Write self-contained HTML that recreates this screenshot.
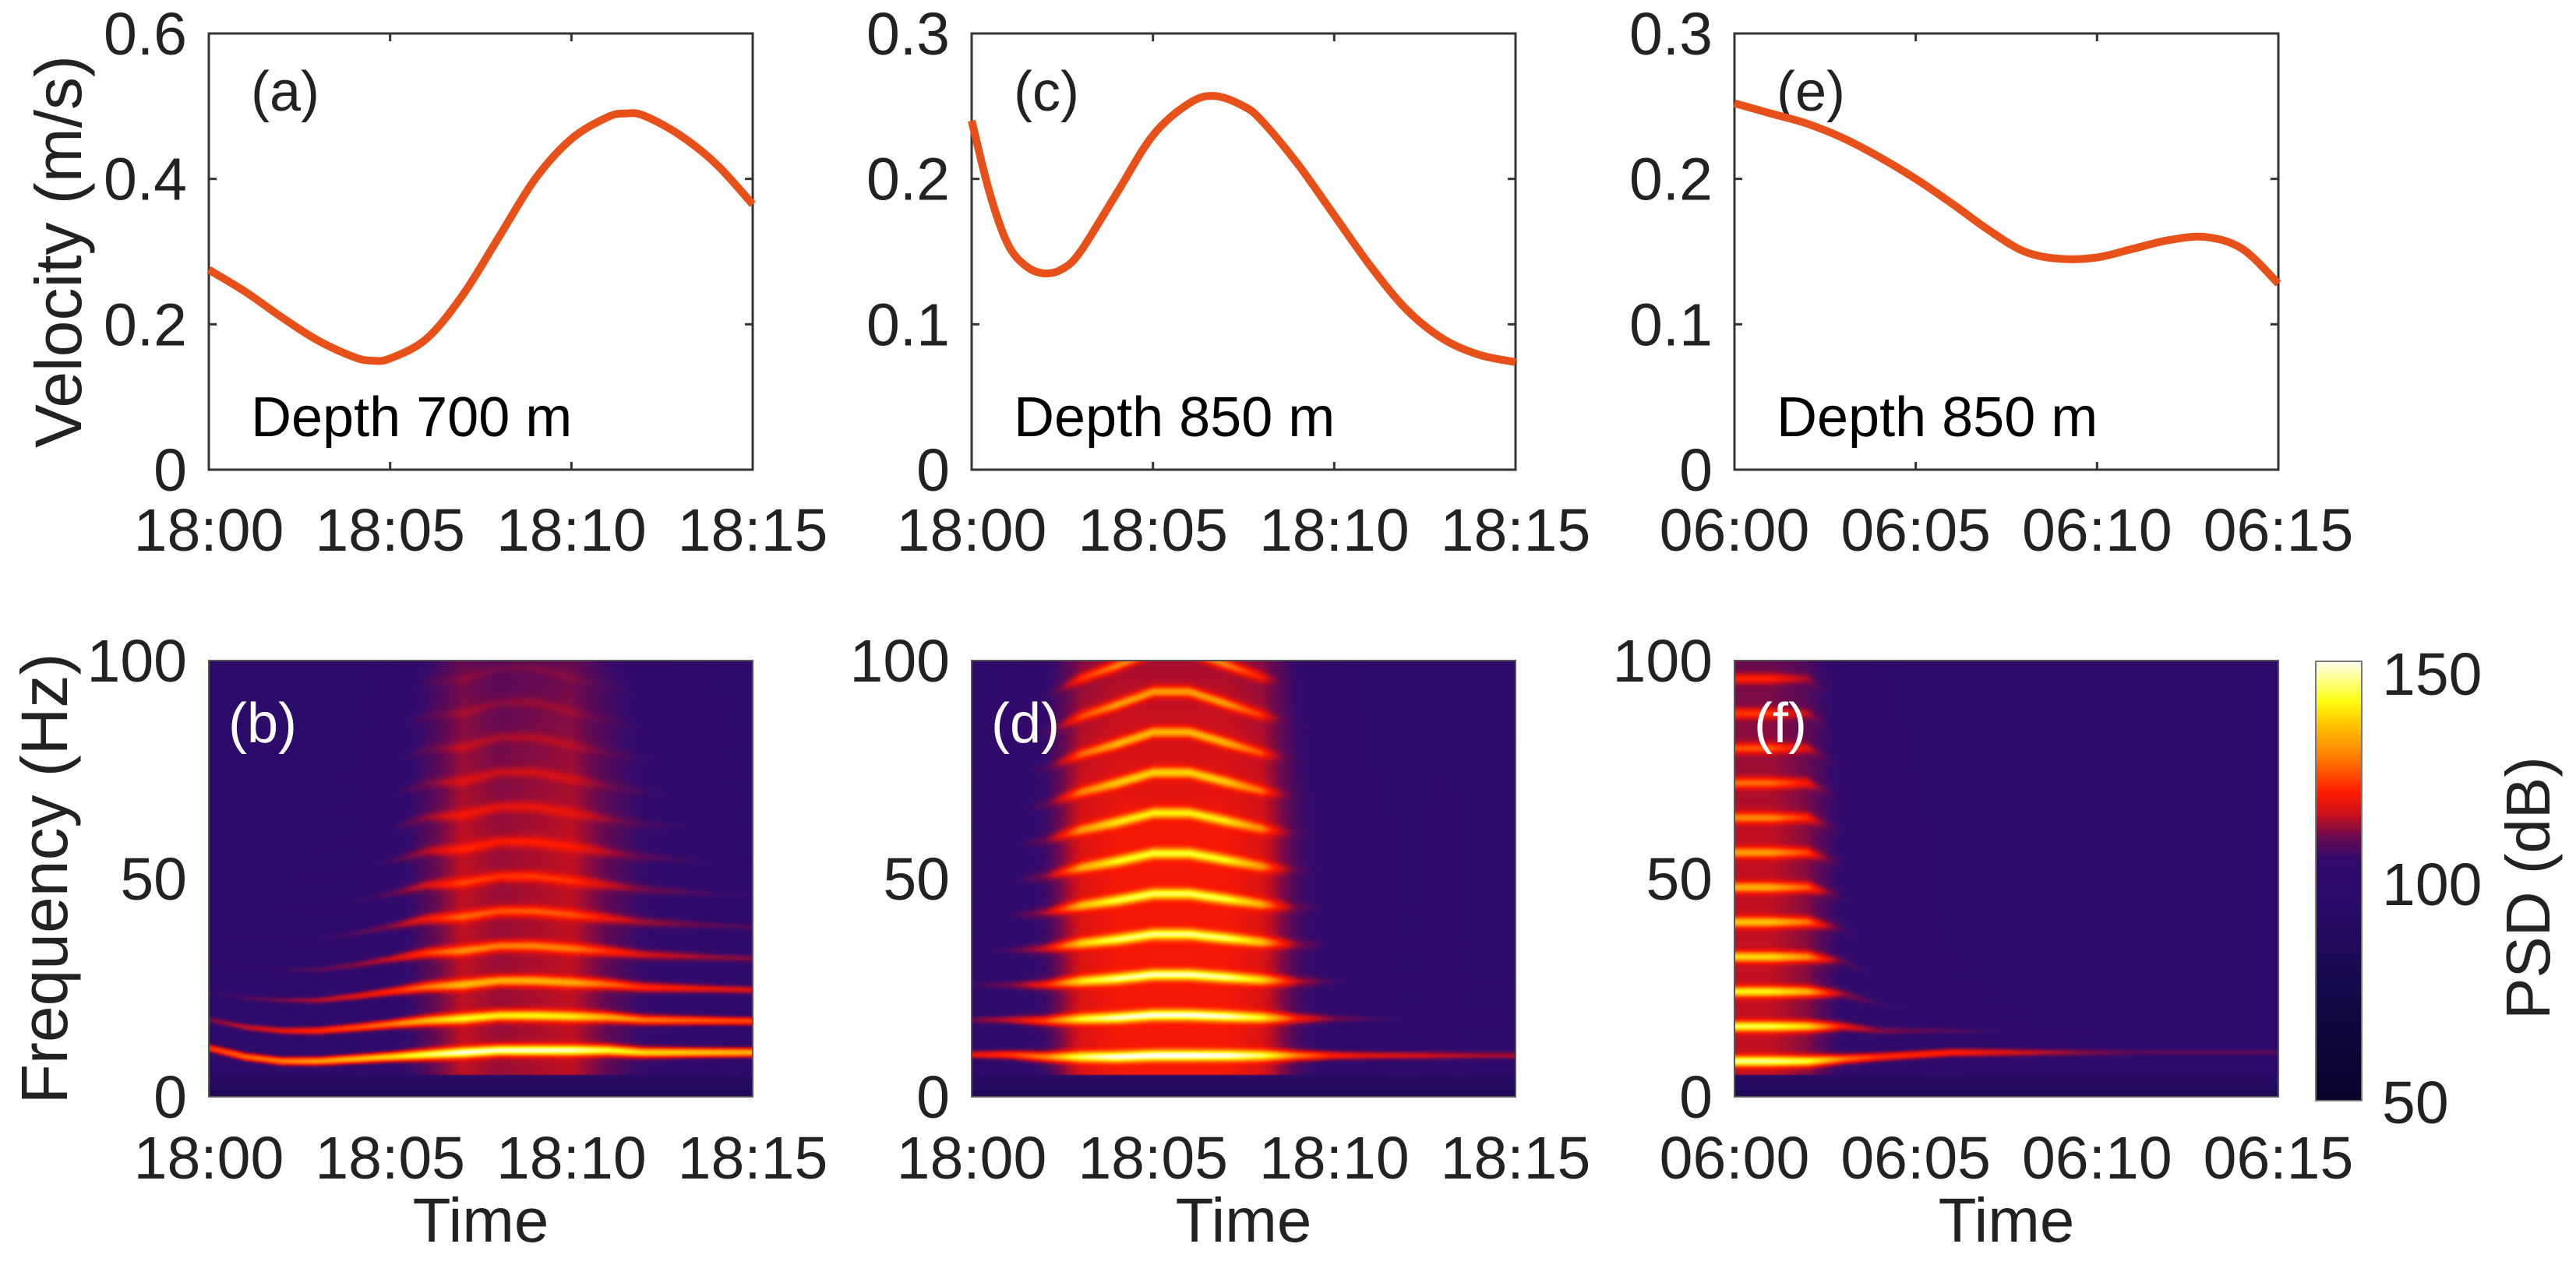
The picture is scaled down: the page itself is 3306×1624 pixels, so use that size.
<!DOCTYPE html>
<html><head><meta charset="utf-8"><style>
html,body{margin:0;padding:0;background:#fff;width:3306px;height:1624px;overflow:hidden}
#root{position:relative;width:3306px;height:1624px;font-family:"Liberation Sans",sans-serif}
canvas{position:absolute}
svg{position:absolute;left:0;top:0}
text{font-family:"Liberation Sans",sans-serif;fill:#222}
</style></head><body>
<div id="root">
<canvas id="spec0" width="698" height="560" style="left:268px;top:848px"></canvas>
<canvas id="spec1" width="698" height="560" style="left:1247px;top:848px"></canvas>
<canvas id="spec2" width="698" height="560" style="left:2226px;top:848px"></canvas>
<canvas id="cbar" width="59" height="564" style="left:2972px;top:849px"></canvas>
<svg id="svg" width="3306" height="1624">
<text x="0" y="0" font-size="84" text-anchor="middle" transform="translate(104,323) rotate(-90)">Velocity (m/s)</text>
<text x="0" y="0" font-size="84" text-anchor="middle" transform="translate(86,1128) rotate(-90)">Frequency (Hz)</text>
<text x="0" y="0" font-size="80" text-anchor="middle" transform="translate(3272,1140) rotate(-90)">PSD (dB)</text>
<text x="322" y="142" font-size="72">(a)</text>
<text x="1301" y="142" font-size="72">(c)</text>
<text x="2280" y="142" font-size="72">(e)</text>
<text x="322" y="560" font-size="72" style="fill:#000">Depth 700 m</text>
<text x="1301" y="560" font-size="72" style="fill:#000">Depth 850 m</text>
<text x="2280" y="560" font-size="72" style="fill:#000">Depth 850 m</text>
<text x="293" y="953" font-size="72" style="fill:#fff">(b)</text>
<text x="1272" y="953" font-size="72" style="fill:#fff">(d)</text>
<text x="2251" y="953" font-size="72" style="fill:#fff">(f)</text>
<text x="617" y="1594" font-size="80" text-anchor="middle">Time</text>
<text x="1596" y="1594" font-size="80" text-anchor="middle">Time</text>
<text x="2575" y="1594" font-size="80" text-anchor="middle">Time</text>
<text x="3057" y="892" font-size="77">150</text>
<text x="3057" y="1162" font-size="77">100</text>
<text x="3057" y="1442" font-size="77">50</text>
</svg>
</div>
<script>
// ---- data ----
const minutes = [0,5,10,15];
const xTickLabelsPM = ["18:00","18:05","18:10","18:15"];
const xTickLabelsAM = ["06:00","06:05","06:10","06:15"];
const yTicksA = [0,0.2,0.4,0.6];
const yTicksCE = [0,0.1,0.2,0.3];
const yTicksFreq = [0,50,100];
const timeA = [0,1,2,3,4,4.5,5,6,7,8,9,10,11,11.5,12,13,14,15];
const velA = [0.275,0.245,0.21,0.178,0.155,0.15,0.153,0.18,0.24,0.32,0.40,0.455,0.485,0.49,0.487,0.46,0.42,0.365];
const timeC = [0,0.5,1,1.5,2,2.5,3,4,5,6,6.7,7.5,8,9,10,11,12,13,14,15];
const velC = [0.24,0.19,0.155,0.14,0.135,0.138,0.15,0.19,0.23,0.252,0.257,0.25,0.24,0.21,0.175,0.14,0.11,0.09,0.079,0.074];
const timeE = [0,1,2,3,4,5,6,7,8,9,10,11,12,13,14,15];
const velE = [0.252,0.245,0.238,0.228,0.215,0.2,0.183,0.165,0.15,0.145,0.146,0.152,0.158,0.16,0.152,0.128];
// spectrogram descriptors per minute 0..15
const lowB = [11,9,8,8,8.5,9,9.5,10,10.5,10.5,10.5,10.5,10,10,10,10];
const spB  = [6.5,6.8,7,7,7.2,7.5,7.8,7.8,8,8,7.8,7.6,7.5,7.4,7.3,7.2];
const bsB  = [0.6,0.7,0.75,0.8,0.85,0.9,0.95,1,1,1,0.95,0.9,0.85,0.85,0.85,0.85];
const bbB  = [0,0,0,0.05,0.1,0.2,0.5,0.8,0.7,0.75,0.8,0.55,0.35,0.25,0.15,0.1];
const dkB  = [0.55,0.6,0.65,0.68,0.7,0.72,0.74,0.76,0.76,0.76,0.74,0.72,0.7,0.7,0.7,0.7];
const lowD = [9.5,9.5,9,9,9,9.3,9.3,9.3,9.3,9.3,9.3,9.3,9.3,9.3,9.3,9.3];
const spD  = [8,8,8.3,8.7,9,9.3,9.3,9,8.7,8.5,8.5,8.5,8.5,8.5,8.5,8.5];
const bsD  = [0.45,0.5,0.6,0.8,0.95,1,1,0.95,0.8,0.55,0.45,0.4,0.4,0.35,0.35,0.35];
const bbD  = [0.1,0.2,0.4,0.9,1,1,1,1,0.9,0.45,0.2,0.15,0.12,0.15,0.08,0.08];
const dkD  = [0.6,0.65,0.75,0.9,0.93,0.93,0.93,0.93,0.88,0.6,0.5,0.4,0.3,0.3,0.3,0.3];
const lowF = [8,8,8,8.5,9,9.5,10,10,10,10,10,10,10,10,10,10];
const spF  = [8,8,8,7.5,6,5.5,5,4.8,4.5,4.5,4.5,4.5,4.5,4.5,4.5,4.5];
const bsF  = [0.9,0.9,0.85,0.6,0.5,0.5,0.5,0.45,0.4,0.35,0.3,0.25,0.25,0.25,0.25,0.25];
const bbF  = [0.8,0.8,0.65,0.3,0.18,0.14,0.12,0.1,0.08,0.06,0.05,0.05,0.04,0.04,0.04,0.04];
const dkF  = [0.9,0.9,0.85,0.6,0.5,0.45,0.4,0.35,0.3,0.2,0.1,0.05,0.05,0.05,0.05,0.05];
const cmapDB = [50,75,95,105,110,115,120,128,136,141,150];
const cmapCol = ["#07042a","#14094a","#2a0b6a","#340a6c","#6a0a50","#c8101e","#ff1a00","#ff7a00","#ffc800","#ffff10","#fffff0"];

// ---- layout ----
const PX = [268,1247,2226], PW = 698, TOP = [43,603], BOT = [848,1408];
const NS = "http://www.w3.org/2000/svg";
const svg = document.getElementById('svg');
function mk(tag, attrs){const e=document.createElementNS(NS,tag);for(const k in attrs)e.setAttribute(k,attrs[k]);svg.appendChild(e);return e;}
function xs(i,t){return PX[i]+t/15*PW;}
function ys(v,max,r){return r[1]-v/max*(r[1]-r[0]);}
function smoothPath(pts){
  let d='M'+pts[0][0].toFixed(1)+','+pts[0][1].toFixed(1);
  for(let k=0;k<pts.length-1;k++){
    const p0=pts[Math.max(0,k-1)],p1=pts[k],p2=pts[k+1],p3=pts[Math.min(pts.length-1,k+2)];
    const c1=[p1[0]+(p2[0]-p0[0])/6,p1[1]+(p2[1]-p0[1])/6];
    const c2=[p2[0]-(p3[0]-p1[0])/6,p2[1]-(p3[1]-p1[1])/6];
    d+='C'+c1[0].toFixed(1)+','+c1[1].toFixed(1)+' '+c2[0].toFixed(1)+','+c2[1].toFixed(1)+' '+p2[0].toFixed(1)+','+p2[1].toFixed(1);
  }
  return d;
}

const lineSets = [[timeA,velA,0.6,yTicksA,xTickLabelsPM,"a"],[timeC,velC,0.3,yTicksCE,xTickLabelsPM,"c"],[timeE,velE,0.3,yTicksCE,xTickLabelsAM,"e"]];
lineSets.forEach((s,i)=>{
  const [tt,vv,max,yt,xl,nm]=s;
  minutes.forEach((m,j)=>{
    const x=xs(i,m);
    const a=mk('line',{x1:x,x2:x,y1:TOP[1],y2:TOP[1]-10,stroke:'#333','stroke-width':3});
    
    
    const b=mk('line',{x1:x,x2:x,y1:TOP[0],y2:TOP[0]+10,stroke:'#333','stroke-width':3});
    
    
    const t=mk('text',{x:x,y:TOP[1]+104,'font-size':77,'text-anchor':'middle'});
    t.textContent=xl[j];
    
    
  });
  yt.forEach(v=>{
    const y=ys(v,max,TOP);
    const a=mk('line',{x1:PX[i],x2:PX[i]+10,y1:y,y2:y,stroke:'#333','stroke-width':3});
    
    
    const b=mk('line',{x1:PX[i]+PW,x2:PX[i]+PW-10,y1:y,y2:y,stroke:'#333','stroke-width':3});
    
    
    const t=mk('text',{x:PX[i]-28,y:y+27,'font-size':77,'text-anchor':'end'});
    t.textContent=String(v);
    
    
  });
  const fr=mk('rect',{x:PX[i],y:TOP[0],width:PW,height:TOP[1]-TOP[0],fill:'none',stroke:'#333','stroke-width':3});
  
  
  const pts=tt.map((t,k)=>[xs(i,t),ys(vv[k],max,TOP)]);
  const p=mk('path',{d:smoothPath(pts),fill:'none',stroke:'#e8501a','stroke-width':10,'stroke-linejoin':'round'});
  
  
});

["b","d","f"].forEach((nm,i)=>{
  const xl = i==2?xTickLabelsAM:xTickLabelsPM;
  minutes.forEach((m,j)=>{
    const t=mk('text',{x:xs(i,m),y:BOT[1]+105,'font-size':77,'text-anchor':'middle'});
    t.textContent=xl[j];
    
    
  });
  yTicksFreq.forEach(v=>{
    const y=ys(v,100,BOT);
    const t=mk('text',{x:PX[i]-28,y:y+27,'font-size':77,'text-anchor':'end'});
    t.textContent=String(v);
    
    
  });
  const fr=mk('rect',{x:PX[i],y:BOT[0],width:PW,height:BOT[1]-BOT[0],fill:'none',stroke:'#555','stroke-width':2});
  
  
});
const cbf=mk('rect',{x:2972,y:849,width:59,height:564,fill:'none',stroke:'#777','stroke-width':2});



// ---- colormap ----
function hex(h){return [parseInt(h.substr(1,2),16),parseInt(h.substr(3,2),16),parseInt(h.substr(5,2),16)];}
const cm = cmapCol.map(hex);
function color(db){
  if(db<=cmapDB[0])return cm[0];
  for(let k=1;k<cmapDB.length;k++){
    if(db<=cmapDB[k]){const f=(db-cmapDB[k-1])/(cmapDB[k]-cmapDB[k-1]);return cm[k-1].map((c,j)=>c+(cm[k][j]-c)*f);}
  }
  return cm[cm.length-1];
}
function interp(arr,t){const i=Math.min(14,Math.floor(t));const f=t-i;return arr[i]+(arr[i+1]-arr[i])*f;}

const specs=[[lowB,spB,bsB,bbB,dkB],[lowD,spD,bsD,bbD,dkD],[lowF,spF,bsF,bbF,dkF]];
specs.forEach((s,i)=>{
  const [low,sp,bs,bb,dk]=s;
  const W=349,H=280;
  const off=document.createElement('canvas');off.width=W;off.height=H;
  const oc=off.getContext('2d');const img=oc.createImageData(W,H);
  for(let c=0;c<W;c++){
    const t=c/(W-1)*15;
    const L=interp(low,t),S=interp(sp,t),B=interp(bs,t),BB=interp(bb,t),DK=interp(dk,t);
    for(let r=0;r<H;r++){
      const f=(H-1-r)/(H-1)*100;
      let db = f<5 ? 86+f*1.5 : 97;
      if(f>5) db += BB*22*(f<60?1:1-(f-60)/150);
      let h=0;
      for(let k=0;k<14;k++){
        const fk=L+k*S; const a=B*Math.pow(DK,k);
        const g=Math.exp(-Math.pow((f-fk)/1.2,2));
        h=Math.max(h,a*g);
      }
      db += h*(34+ (1-BB)*8);
      const col=color(Math.min(150,db));
      const o=(r*W+c)*4;img.data[o]=col[0];img.data[o+1]=col[1];img.data[o+2]=col[2];img.data[o+3]=255;
    }
  }
  oc.putImageData(img,0,0);
  const ctx=document.getElementById('spec'+i).getContext('2d');
  ctx.imageSmoothingEnabled=true;
  ctx.drawImage(off,0,0,698,560);
});
(function(){const c=document.getElementById('cbar').getContext('2d');
  for(let y=0;y<564;y++){const db=150-y/563*100;const col=color(db);
    c.fillStyle='rgb('+col.map(Math.round).join(',')+')';c.fillRect(0,y,59,1);}
})();
</script>
</body></html>
